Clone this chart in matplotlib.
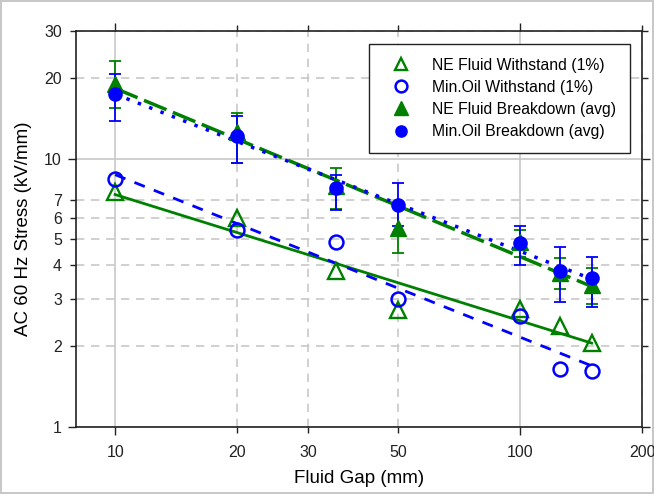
import numpy as np
import matplotlib
matplotlib.use("Agg")
from matplotlib import pyplot as plt
from matplotlib.ticker import FixedLocator, FixedFormatter

plt.rcParams['font.family'] = ['Liberation Sans', 'DejaVu Sans']

# fluid gap (mm)
gap = [10, 20, 35, 50, 100, 125, 150]

# withstand (1%) values, kV/mm
ne_withstand = [7.5, 6.0, 3.8, 2.72, 2.75, 2.37, 2.05]
oil_withstand = [8.4, 5.4, 4.9, 3.0, 2.59, 1.64, 1.62]

# average breakdown with error bar ends
ne_breakdown = [19.0, 12.6, 7.9, 5.5, 4.9, 3.75, 3.37]
ne_hi = [23.2, 14.8, 9.2, 6.6, 5.4, 4.25, 3.9]
ne_lo = [15.5, 9.6, 6.5, 4.43, 4.3, 3.26, 2.86]

oil_breakdown = [17.4, 12.1, 7.8, 6.7, 4.83, 3.8, 3.58]
oil_hi = [20.7, 14.4, 8.7, 8.1, 5.6, 4.67, 4.28]
oil_lo = [13.8, 9.6, 6.45, 5.6, 4.0, 2.91, 2.79]

green = '#008000'
blue = '#0000ff'


def power_fit(x, y):
    # straight line in log-log space
    k, b = np.polyfit(np.log10(x), np.log10(y), 1)
    xs = np.array([min(x), max(x)], dtype=float)
    return xs, 10 ** (k * np.log10(xs) + b)


fig = plt.figure(figsize=(6.54, 4.94), dpi=100)
fig.patch.set_edgecolor('#c8c8c8')
fig.patch.set_linewidth(1.5)
ax = fig.add_axes([0.116, 0.136, 0.866, 0.802])
ax.set_xscale('log')
ax.set_yscale('log')

# fits
xs, ys = power_fit(gap, ne_withstand)
ax.plot(xs, ys, color=green, lw=2, zorder=2)
xs, ys = power_fit(gap, oil_withstand)
ax.plot(xs, ys, color=blue, lw=2, dashes=(4, 3.5), zorder=2)
xs, ys = power_fit(gap, ne_breakdown)
ax.plot(xs, ys, color=green, lw=2.5, dashes=(7, 2), zorder=2)
xs, ys = power_fit(gap, oil_breakdown)
ax.plot(xs, ys, color=blue, lw=2.5, dashes=(1, 2.5), zorder=2)

# error bars
g = np.array(gap)
nb = np.array(ne_breakdown)
ob = np.array(oil_breakdown)
ax.errorbar(g, nb, yerr=[nb - np.array(ne_lo), np.array(ne_hi) - nb],
            fmt='none', ecolor=green, elinewidth=1.3, capsize=4, capthick=1.3, zorder=3)
ax.errorbar(g, ob, yerr=[ob - np.array(oil_lo), np.array(oil_hi) - ob],
            fmt='none', ecolor=blue, elinewidth=1.3, capsize=4, capthick=1.3, zorder=3)

# markers
ax.plot(gap, ne_withstand, ls='none', marker='^', ms=11, mfc='none', mec=green,
        mew=1.7, label='NE Fluid Withstand (1%)', zorder=4)
ax.plot(gap, oil_withstand, ls='none', marker='o', ms=10, mfc='none', mec=blue,
        mew=1.8, label='Min.Oil Withstand (1%)', zorder=4)
ax.plot(gap, ne_breakdown, ls='none', marker='^', ms=12, color=green,
        label='NE Fluid Breakdown (avg)', zorder=4)
ax.plot(gap, oil_breakdown, ls='none', marker='o', ms=9.5, color=blue,
        label='Min.Oil Breakdown (avg)', zorder=5)

ax.set_xlim(8, 200)
ax.set_ylim(1, 30)

ax.xaxis.set_major_locator(FixedLocator([10, 100]))
ax.xaxis.set_minor_locator(FixedLocator([20, 30, 50, 200]))
ax.xaxis.set_major_formatter(FixedFormatter(['10', '100']))
ax.xaxis.set_minor_formatter(FixedFormatter(['20', '30', '50', '200']))
ax.yaxis.set_major_locator(FixedLocator([1, 10]))
ax.yaxis.set_minor_locator(FixedLocator([2, 3, 4, 5, 6, 7, 20, 30]))
ax.yaxis.set_major_formatter(FixedFormatter(['1', '10']))
ax.yaxis.set_minor_formatter(FixedFormatter(['2', '3', '4', '5', '6', '7', '20', '30']))

ax.grid(True, which='major', color='#c8c8c8', lw=1.2, ls='-', zorder=0)
ax.grid(True, which='minor', color='#c8c8c8', lw=1.2, ls=(0, (5, 4)), zorder=0)
ax.set_axisbelow(True)

ax.tick_params(which='both', direction='out', top=True, right=True,
               labelsize=11.5, colors='#222222', width=1)
ax.tick_params(axis='x', which='major', length=6, pad=7)
ax.tick_params(axis='x', which='minor', length=4, pad=9)
ax.tick_params(axis='y', which='major', length=6, pad=4)
ax.tick_params(axis='y', which='minor', length=4, pad=6)
for s in ax.spines.values():
    s.set_linewidth(1.2)
    s.set_color('#222222')

ax.set_xlabel('Fluid Gap (mm)', fontsize=13.5, labelpad=7)
ax.set_ylabel('AC 60 Hz Stress (kV/mm)', fontsize=13.5, labelpad=9)

leg = ax.legend(loc='upper right', bbox_to_anchor=(0.979, 0.967), borderaxespad=0,
                fontsize=11.3, frameon=True, fancybox=False, edgecolor='#222222',
                framealpha=1, borderpad=0.9, handletextpad=0.9, labelspacing=0.45,
                markerscale=0.85, handlelength=2.2)
leg.get_frame().set_linewidth(1)

fig.savefig('out.png', dpi=100)
